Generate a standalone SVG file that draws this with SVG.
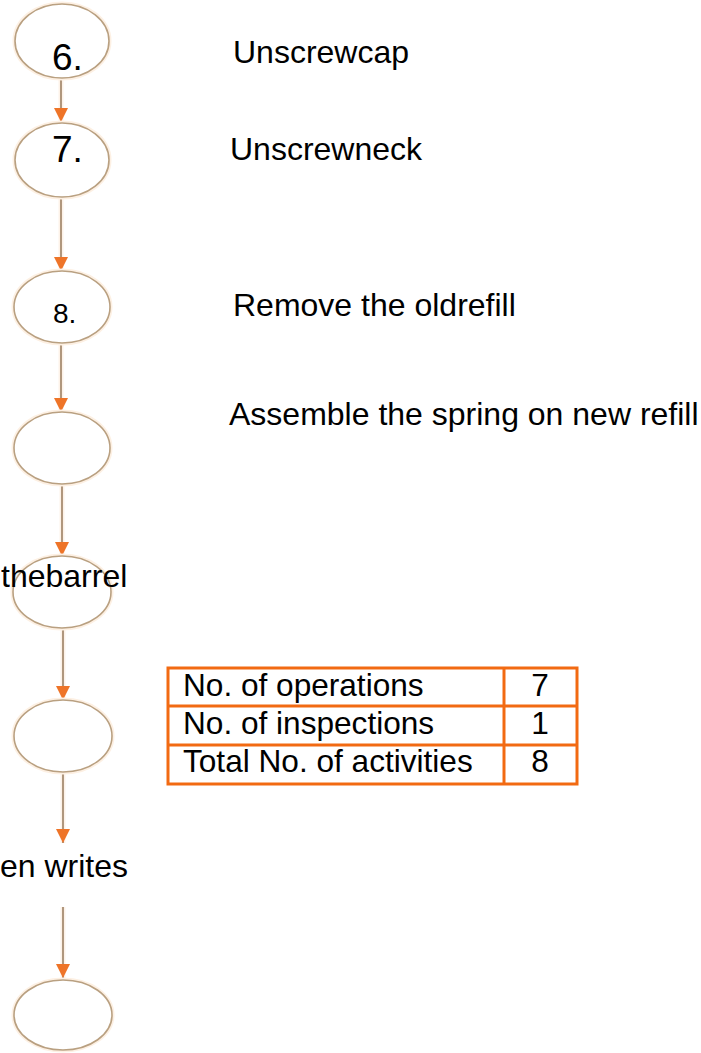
<svg xmlns="http://www.w3.org/2000/svg" width="701" height="1053" viewBox="0 0 701 1053">
  <style>
    .halo { fill: none; stroke: #fdf0e3; stroke-width: 5; }
    .node { fill: #ffffff; stroke: #b9a081; stroke-width: 1.6; }
    .num { font-family: "Liberation Sans", Arial, sans-serif; fill: #000; }
    .label { font-family: "Liberation Sans", Arial, sans-serif; font-size: 32px; fill: #000; }
    .edge { stroke: #a88d72; stroke-width: 1.8; fill: none; }
    .edgeHalo { stroke: #fdf2e8; stroke-width: 5; fill: none; }
    .cell { fill: none; stroke: #f26a12; stroke-width: 3; }
    .tbl { font-family: "Liberation Sans", Arial, sans-serif; font-size: 31.6px; fill: #000; }
  </style>
  <defs>
    <!-- downward-pointing head, drawn along +x so orient="auto" follows the line -->
    <marker id="head" viewBox="0 0 10 10" refX="10" refY="5" markerWidth="14" markerHeight="14" markerUnits="userSpaceOnUse" orient="auto">
      <path d="M0,0 L10,5 L0,10 Z" fill="#ee7428"/>
    </marker>
  </defs>

  <rect width="701" height="1053" fill="#ffffff"/>

  <!-- connectors between the process circles -->
  <g id="connectors">
    <g class="edgeHalo">
      <line x1="61" y1="78" x2="61" y2="122"/>
      <line x1="61" y1="197" x2="61" y2="271"/>
      <line x1="61" y1="343" x2="61" y2="412"/>
      <line x1="62" y1="484" x2="62" y2="556"/>
      <line x1="63" y1="628" x2="63" y2="700"/>
      <line x1="63" y1="772" x2="63" y2="843"/>
      <line x1="63" y1="907" x2="63" y2="978"/>
    </g>
    <line class="edge" x1="61" y1="78" x2="61" y2="122" marker-end="url(#head)"/>
    <line class="edge" x1="61" y1="197" x2="61" y2="271" marker-end="url(#head)"/>
    <line class="edge" x1="61" y1="343" x2="61" y2="412" marker-end="url(#head)"/>
    <line class="edge" x1="62" y1="484" x2="62" y2="556" marker-end="url(#head)"/>
    <line class="edge" x1="63" y1="628" x2="63" y2="700" marker-end="url(#head)"/>
    <line class="edge" x1="63" y1="772" x2="63" y2="843" marker-end="url(#head)"/>
    <line class="edge" x1="63" y1="907" x2="63" y2="978" marker-end="url(#head)"/>
  </g>

  <!-- step 6 -->
  <g id="step6">
    <ellipse class="halo" cx="62" cy="41" rx="47" ry="37"/>
    <ellipse class="node" cx="62" cy="41" rx="47" ry="37"/>
    <text class="num" x="52" y="70" font-size="37">6.</text>
    <text class="label" x="233" y="63">Unscrewcap</text>
  </g>

  <!-- step 7 -->
  <g id="step7">
    <ellipse class="halo" cx="62" cy="160" rx="47" ry="37"/>
    <ellipse class="node" cx="62" cy="160" rx="47" ry="37"/>
    <text class="num" x="52" y="162" font-size="37">7.</text>
    <text class="label" x="230" y="160">Unscrewneck</text>
  </g>

  <!-- step 8 -->
  <g id="step8">
    <ellipse class="halo" cx="62" cy="307" rx="48" ry="36"/>
    <ellipse class="node" cx="62" cy="307" rx="48" ry="36"/>
    <text class="num" x="53" y="323" font-size="28">8.</text>
    <text class="label" x="233" y="316">Remove the oldrefill</text>
  </g>

  <!-- assemble spring -->
  <g id="step9">
    <ellipse class="halo" cx="62" cy="448" rx="48" ry="36"/>
    <ellipse class="node" cx="62" cy="448" rx="48" ry="36"/>
    <text class="label" x="229" y="425">Assemble the spring on new refill</text>
  </g>

  <!-- insert into barrel -->
  <g id="step10">
    <ellipse class="halo" cx="62" cy="592" rx="49" ry="36"/>
    <ellipse class="node" cx="62" cy="592" rx="49" ry="36"/>
    <text class="label" x="1" y="587" font-size="29.5">thebarrel</text>
  </g>

  <!-- step 11 -->
  <g id="step11">
    <ellipse class="halo" cx="63" cy="736" rx="49" ry="36"/>
    <ellipse class="node" cx="63" cy="736" rx="49" ry="36"/>
  </g>

  <!-- writing check label -->
  <g id="writes">
    <text class="label" x="0" y="877" font-size="31.5">en writes</text>
  </g>

  <!-- final step -->
  <g id="step12">
    <ellipse class="halo" cx="63" cy="1015" rx="49" ry="35"/>
    <ellipse class="node" cx="63" cy="1015" rx="49" ry="35"/>
  </g>

  <!-- activity summary table -->
  <g id="summary">
    <rect class="cell" x="168" y="668" width="409" height="116"/>
    <line class="cell" x1="168" y1="706" x2="577" y2="706"/>
    <line class="cell" x1="168" y1="745" x2="577" y2="745"/>
    <line class="cell" x1="504" y1="668" x2="504" y2="784"/>
    <text class="tbl" x="183" y="696">No. of operations</text>
    <text class="tbl" x="183" y="734">No. of inspections</text>
    <text class="tbl" x="183" y="772">Total No. of activities</text>
    <text class="tbl" x="540" y="696" text-anchor="middle">7</text>
    <text class="tbl" x="540" y="734" text-anchor="middle">1</text>
    <text class="tbl" x="540" y="772" text-anchor="middle">8</text>
  </g>
</svg>
